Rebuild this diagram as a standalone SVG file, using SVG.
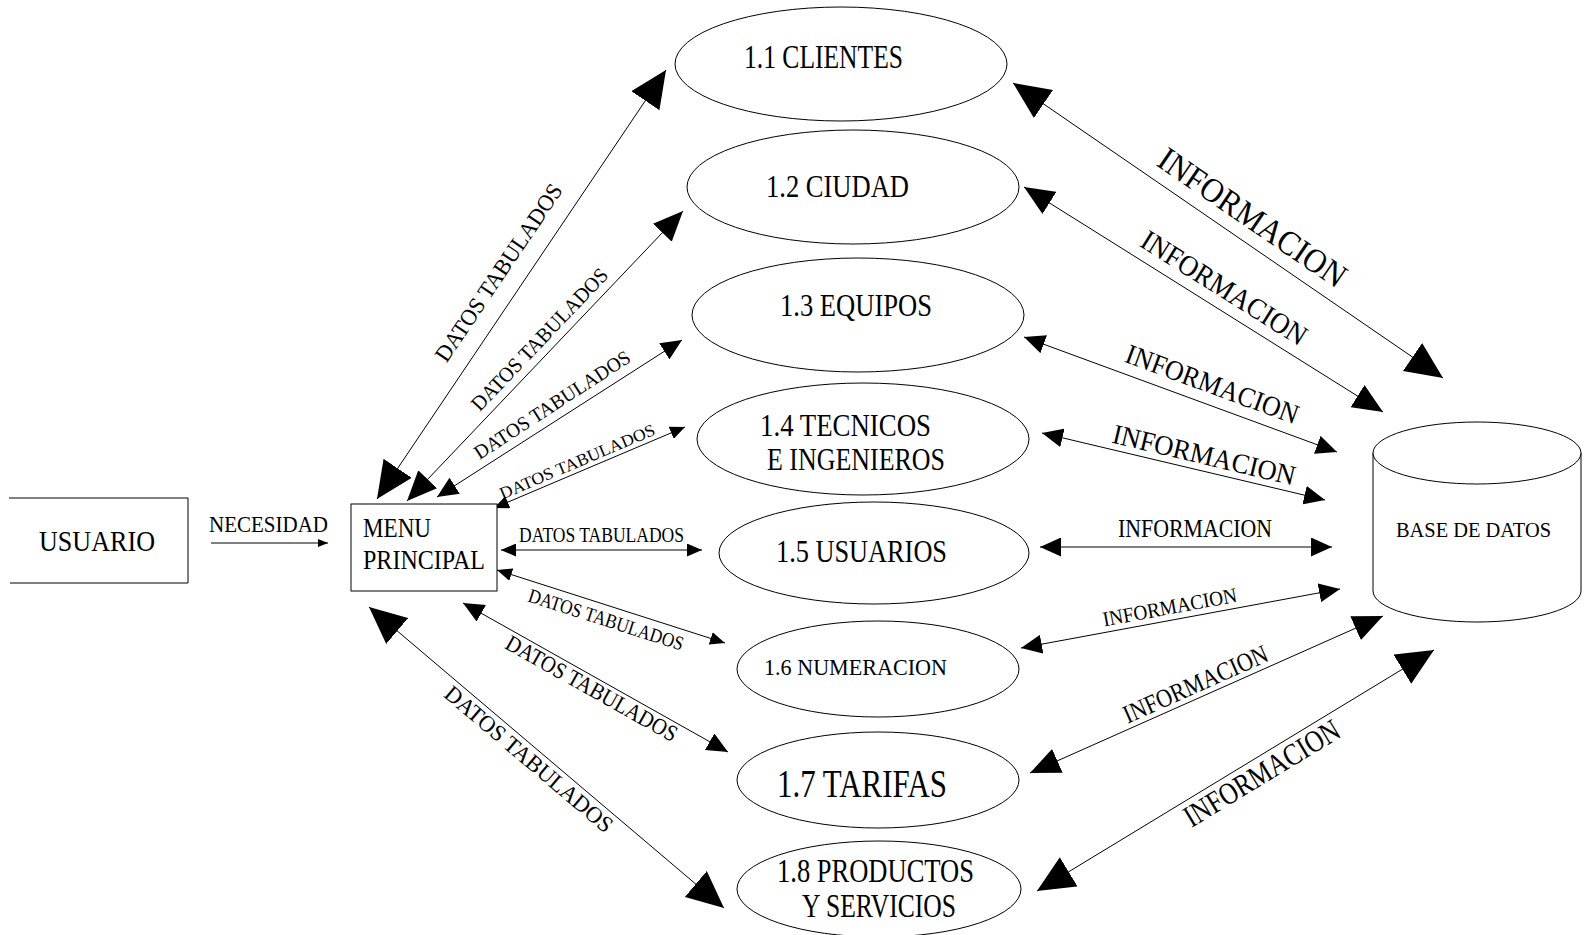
<svg xmlns="http://www.w3.org/2000/svg" width="1585" height="935" viewBox="0 0 1585 935">
<style>
.shape{fill:#fff;stroke:#000;stroke-width:1}
.ln{fill:none;stroke:#000;stroke-width:1}
text{font-family:"Liberation Serif","Times New Roman",serif;fill:#000}
</style>
<defs>
<marker id="aL" viewBox="0 0 37 34" markerWidth="37" markerHeight="34" refX="37" refY="17" orient="auto-start-reverse" markerUnits="userSpaceOnUse"><path d="M0,0 L37,17 L0,34 z"/></marker>
<marker id="aM" viewBox="0 0 30 26" markerWidth="30" markerHeight="26" refX="30" refY="13" orient="auto-start-reverse" markerUnits="userSpaceOnUse"><path d="M0,0 L30,13 L0,26 z"/></marker>
<marker id="aS" viewBox="0 0 21 19" markerWidth="21" markerHeight="19" refX="21" refY="9.5" orient="auto-start-reverse" markerUnits="userSpaceOnUse"><path d="M0,0 L21,9.5 L0,19 z"/></marker>
<marker id="aT" viewBox="0 0 15 13" markerWidth="15" markerHeight="13" refX="15" refY="6.5" orient="auto-start-reverse" markerUnits="userSpaceOnUse"><path d="M0,0 L15,6.5 L0,13 z"/></marker>
<marker id="aN" viewBox="0 0 10 8" markerWidth="10" markerHeight="8" refX="10" refY="4" orient="auto-start-reverse" markerUnits="userSpaceOnUse"><path d="M0,0 L10,4 L0,8 z"/></marker>
</defs>
<rect width="1585" height="935" fill="#fff"/>

<g id="connectors">
  <line class="ln" x1="211" y1="543" x2="328" y2="543" marker-end="url(#aN)"/>
  <text x="209" y="532" font-size="23" textLength="119" lengthAdjust="spacingAndGlyphs">NECESIDAD</text>

  <line class="ln" x1="377" y1="499" x2="666" y2="70" marker-start="url(#aL)" marker-end="url(#aL)"/>
  <line class="ln" x1="407" y1="501" x2="683" y2="211" marker-start="url(#aM)" marker-end="url(#aM)"/>
  <line class="ln" x1="437" y1="497" x2="682" y2="340" marker-start="url(#aS)" marker-end="url(#aS)"/>
  <line class="ln" x1="494" y1="508" x2="685" y2="427" marker-start="url(#aT)" marker-end="url(#aT)"/>
  <line class="ln" x1="501" y1="550" x2="702" y2="550" marker-start="url(#aT)" marker-end="url(#aT)"/>
  <line class="ln" x1="497" y1="570" x2="725" y2="643" marker-start="url(#aT)" marker-end="url(#aT)"/>
  <line class="ln" x1="463" y1="603" x2="728" y2="752" marker-start="url(#aS)" marker-end="url(#aS)"/>
  <line class="ln" x1="369" y1="607" x2="724" y2="908" marker-start="url(#aL)" marker-end="url(#aL)"/>

  <text transform="translate(446.6,363.6) rotate(-56)" font-size="23" textLength="209" lengthAdjust="spacingAndGlyphs">DATOS TABULADOS</text>
  <text transform="translate(479.8,412.3) rotate(-46.4)" font-size="21" textLength="188" lengthAdjust="spacingAndGlyphs">DATOS TABULADOS</text>
  <text transform="translate(479.5,460) rotate(-33)" font-size="20" textLength="182" lengthAdjust="spacingAndGlyphs">DATOS TABULADOS</text>
  <text transform="translate(502.6,499.4) rotate(-23)" font-size="17" textLength="167" lengthAdjust="spacingAndGlyphs">DATOS TABULADOS</text>
  <text x="519" y="542" font-size="20" textLength="165" lengthAdjust="spacingAndGlyphs">DATOS TABULADOS</text>
  <text transform="translate(526.9,601.2) rotate(17.8)" font-size="20" textLength="162" lengthAdjust="spacingAndGlyphs">DATOS TABULADOS</text>
  <text transform="translate(503.8,647.8) rotate(29.3)" font-size="23" textLength="193" lengthAdjust="spacingAndGlyphs">DATOS TABULADOS</text>
  <text transform="translate(442.7,696.1) rotate(40.3)" font-size="23" textLength="213" lengthAdjust="spacingAndGlyphs">DATOS TABULADOS</text>

  <line class="ln" x1="1013" y1="83" x2="1443" y2="378" marker-start="url(#aL)" marker-end="url(#aL)"/>
  <line class="ln" x1="1024" y1="187" x2="1383" y2="412" marker-start="url(#aM)" marker-end="url(#aM)"/>
  <line class="ln" x1="1024" y1="337" x2="1337" y2="452" marker-start="url(#aS)" marker-end="url(#aS)"/>
  <line class="ln" x1="1042" y1="433" x2="1325" y2="500" marker-start="url(#aS)" marker-end="url(#aS)"/>
  <line class="ln" x1="1040" y1="547" x2="1332" y2="547" marker-start="url(#aS)" marker-end="url(#aS)"/>
  <line class="ln" x1="1021" y1="648" x2="1340" y2="589" marker-start="url(#aS)" marker-end="url(#aS)"/>
  <line class="ln" x1="1030" y1="773" x2="1383" y2="616" marker-start="url(#aM)" marker-end="url(#aM)"/>
  <line class="ln" x1="1037" y1="891" x2="1434" y2="650" marker-start="url(#aL)" marker-end="url(#aL)"/>

  <text transform="translate(1155.2,164.8) rotate(34.4)" font-size="34" textLength="220" lengthAdjust="spacingAndGlyphs">INFORMACION</text>
  <text transform="translate(1138.5,245.6) rotate(32.1)" font-size="29" textLength="190" lengthAdjust="spacingAndGlyphs">INFORMACION</text>
  <text transform="translate(1123.6,361.6) rotate(20.2)" font-size="28" textLength="182" lengthAdjust="spacingAndGlyphs">INFORMACION</text>
  <text transform="translate(1111,442.5) rotate(13.3)" font-size="28" textLength="187" lengthAdjust="spacingAndGlyphs">INFORMACION</text>
  <text x="1118" y="537" font-size="25" textLength="154" lengthAdjust="spacingAndGlyphs">INFORMACION</text>
  <text transform="translate(1104.2,626.4) rotate(-10.5)" font-size="21" textLength="136" lengthAdjust="spacingAndGlyphs">INFORMACION</text>
  <text transform="translate(1127.7,723.7) rotate(-24)" font-size="26" textLength="156" lengthAdjust="spacingAndGlyphs">INFORMACION</text>
  <text transform="translate(1191.4,828) rotate(-31.3)" font-size="31" textLength="177" lengthAdjust="spacingAndGlyphs">INFORMACION</text>
</g>

<g id="usuario">
  <polyline class="ln" points="9,498 188,498 188,583 10,583"/>
  <text x="39" y="551" font-size="30" textLength="116" lengthAdjust="spacingAndGlyphs">USUARIO</text>
</g>

<g id="menu-principal">
  <rect class="shape" x="351" y="504" width="146" height="87"/>
  <text x="363" y="537" font-size="27" textLength="68" lengthAdjust="spacingAndGlyphs">MENU</text>
  <text x="363" y="569" font-size="27" textLength="122" lengthAdjust="spacingAndGlyphs">PRINCIPAL</text>
</g>

<g id="p1-1">
  <ellipse class="shape" cx="841" cy="64" rx="166" ry="57"/>
  <text x="744" y="68" font-size="33" textLength="159" lengthAdjust="spacingAndGlyphs">1.1 CLIENTES</text>
</g>
<g id="p1-2">
  <ellipse class="shape" cx="853" cy="187" rx="166" ry="57"/>
  <text x="766" y="197" font-size="32" textLength="143" lengthAdjust="spacingAndGlyphs">1.2 CIUDAD</text>
</g>
<g id="p1-3">
  <ellipse class="shape" cx="858" cy="315" rx="166" ry="57"/>
  <text x="780" y="316" font-size="32" textLength="152" lengthAdjust="spacingAndGlyphs">1.3 EQUIPOS</text>
</g>
<g id="p1-4">
  <ellipse class="shape" cx="863" cy="439" rx="166" ry="56"/>
  <text x="760" y="436" font-size="32" textLength="171" lengthAdjust="spacingAndGlyphs">1.4 TECNICOS</text>
  <text x="767" y="470" font-size="32" textLength="178" lengthAdjust="spacingAndGlyphs">E INGENIEROS</text>
</g>
<g id="p1-5">
  <ellipse class="shape" cx="874" cy="553" rx="155" ry="51"/>
  <text x="776" y="562" font-size="32" textLength="171" lengthAdjust="spacingAndGlyphs">1.5 USUARIOS</text>
</g>
<g id="p1-6">
  <ellipse class="shape" cx="878" cy="669" rx="141" ry="48"/>
  <text x="764" y="675" font-size="24" textLength="183" lengthAdjust="spacingAndGlyphs">1.6 NUMERACION</text>
</g>
<g id="p1-7">
  <ellipse class="shape" cx="878" cy="780" rx="141" ry="48"/>
  <text x="777" y="797" font-size="39" textLength="170" lengthAdjust="spacingAndGlyphs">1.7 TARIFAS</text>
</g>
<g id="p1-8">
  <ellipse class="shape" cx="879" cy="889" rx="142" ry="48"/>
  <text x="777" y="882" font-size="33" textLength="197" lengthAdjust="spacingAndGlyphs">1.8 PRODUCTOS</text>
  <text x="802" y="917" font-size="33" textLength="154" lengthAdjust="spacingAndGlyphs">Y SERVICIOS</text>
</g>

<g id="base-de-datos">
  <path class="shape" d="M1373,453 L1373,591 A104,31 0 0 0 1581,591 L1581,453"/>
  <ellipse class="shape" cx="1477" cy="453" rx="104" ry="31"/>
  <text x="1396" y="537" font-size="22" textLength="155" lengthAdjust="spacingAndGlyphs">BASE DE DATOS</text>
</g>
</svg>
